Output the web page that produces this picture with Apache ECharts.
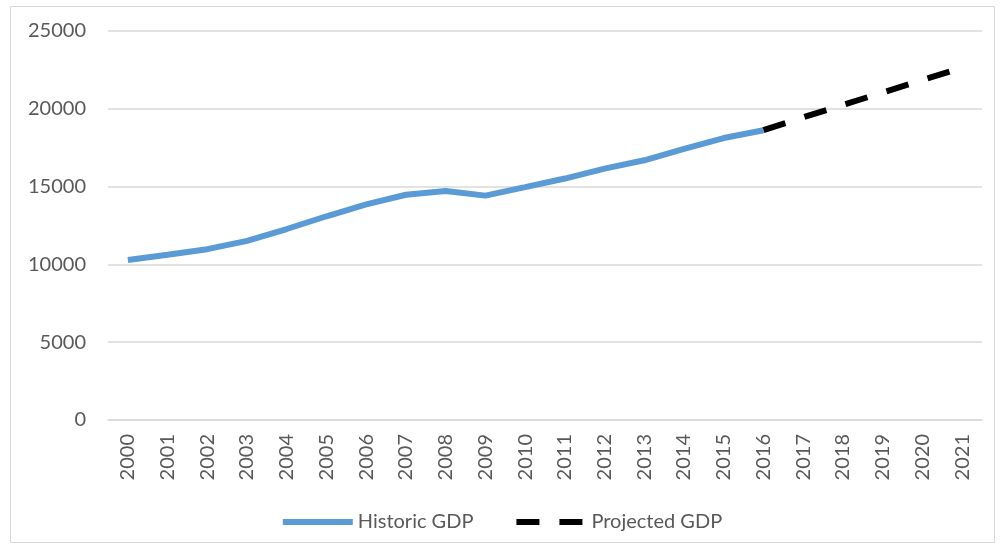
<!DOCTYPE html>
<html>
<head>
<meta charset="utf-8">
<script src="https://cdn.jsdelivr.net/npm/echarts@6/dist/echarts.min.js"></script>
<style>html,body{margin:0;padding:0;background:#fff}#c{width:1002px;height:546px}</style>
</head>
<body>
<div id="c"></div>
<script>
const years = ['2000','2001','2002','2003','2004','2005','2006','2007','2008','2009','2010','2011','2012','2013','2014','2015','2016','2017','2018','2019','2020','2021'];
const historicGDP = [10285,10622,10978,11511,12275,13094,13856,14478,14719,14419,14964,15518,16155,16692,17428,18121,18625];
const projectedGDP = [null,null,null,null,null,null,null,null,null,null,null,null,null,null,null,null,18625,19450,20250,21050,21850,22650];
const yTicks = {min:0, max:25000, interval:5000};

const chart = echarts.init(document.getElementById('c'));
const font = 'Lato, "Open Sans", sans-serif';
chart.setOption({
  animation:false,
  backgroundColor:'#fff',
  graphic:[{type:'rect',shape:{x:10.5,y:6.5,width:984,height:536},style:{fill:'none',stroke:'#d9d9d9',lineWidth:1}}],
  grid:{left:108,right:20,top:31,bottom:126},
  xAxis:{type:'category',data:years,boundaryGap:true,
    axisLine:{lineStyle:{color:'#d9d9d9',width:1.5}},axisTick:{show:false},
    axisLabel:{rotate:90,color:'#595959',fontFamily:font,fontSize:20,margin:14}},
  yAxis:{type:'value',min:yTicks.min,max:yTicks.max,interval:yTicks.interval,
    axisLine:{show:false},axisTick:{show:false},
    splitLine:{lineStyle:{color:'#d9d9d9',width:1.5}},
    axisLabel:{color:'#595959',fontFamily:font,fontSize:20,margin:22,formatter:v=>String(v)}},
  legend:{bottom:9,left:'center',itemWidth:70,itemHeight:8,itemGap:40,
    itemStyle:{opacity:0},lineStyle:{width:6},
    textStyle:{color:'#595959',fontFamily:font,fontSize:20},
    data:['Historic GDP','Projected GDP']},
  series:[
    {name:'Historic GDP',type:'line',data:historicGDP,symbol:'none',
      lineStyle:{color:'#5b9bd5',width:6},itemStyle:{color:'#5b9bd5'},z:2},
    {name:'Projected GDP',type:'line',data:projectedGDP,symbol:'none',
      lineStyle:{color:'#000',width:6,type:[23,20]},itemStyle:{color:'#000'},z:3}
  ]
});
</script>
</body>
</html>
